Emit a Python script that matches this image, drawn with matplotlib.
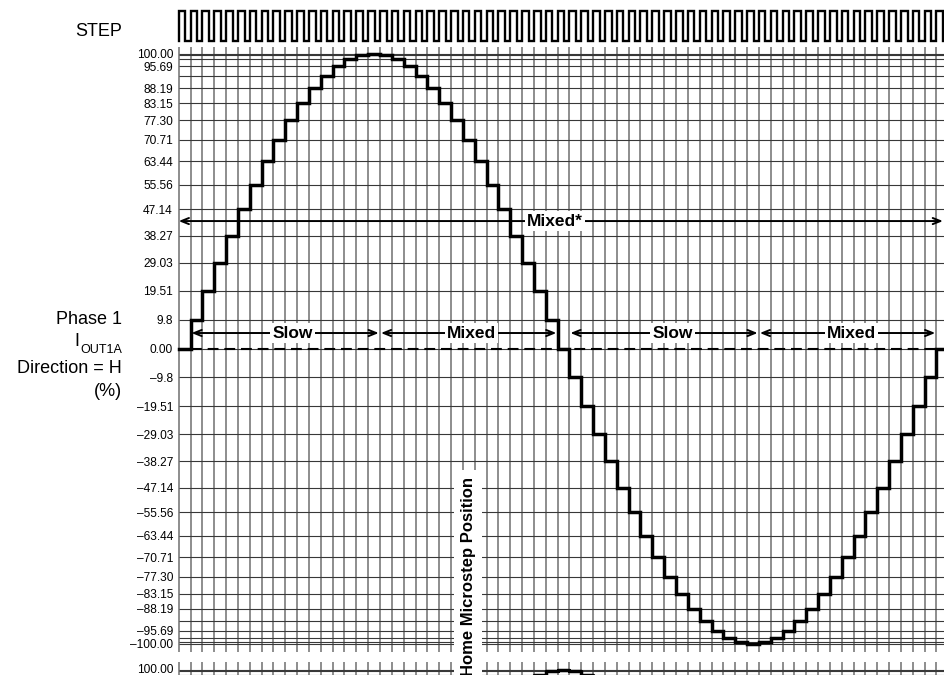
import numpy as np
import matplotlib
matplotlib.use('Agg')
import matplotlib.pyplot as plt

plt.rcParams['font.family'] = ['Liberation Sans', 'DejaVu Sans']

# ---------------- data ----------------
phase1_current = [0.00, 9.8, 19.51, 29.03, 38.27, 47.14, 55.56, 63.44, 70.71, 77.30,
                  83.15, 88.19, 92.39, 95.69, 98.08, 99.52, 100.00, 99.52, 98.08, 95.69,
                  92.39, 88.19, 83.15, 77.30, 70.71, 63.44, 55.56, 47.14, 38.27, 29.03,
                  19.51, 9.8, 0.00, -9.8, -19.51, -29.03, -38.27, -47.14, -55.56, -63.44,
                  -70.71, -77.30, -83.15, -88.19, -92.39, -95.69, -98.08, -99.52, -100.00,
                  -99.52, -98.08, -95.69, -92.39, -88.19, -83.15, -77.30, -70.71, -63.44,
                  -55.56, -47.14, -38.27, -29.03, -19.51, -9.8, 0.00]

grid_levels = [100.00, 99.52, 98.08, 95.69, 92.39, 88.19, 83.15, 77.30, 70.71, 63.44,
               55.56, 47.14, 38.27, 29.03, 19.51, 9.8, 0.00, -9.8, -19.51, -29.03,
               -38.27, -47.14, -55.56, -63.44, -70.71, -77.30, -83.15, -88.19, -92.39,
               -95.69, -98.08, -99.52, -100.00]

tick_values = [100.00, 95.69, 88.19, 83.15, 77.30, 70.71, 63.44, 55.56, 47.14, 38.27,
               29.03, 19.51, 9.8, 0.00, -9.8, -19.51, -29.03, -38.27, -47.14, -55.56,
               -63.44, -70.71, -77.30, -83.15, -88.19, -95.69, -100.00]
tick_labels = ['100.00', '95.69', '88.19', '83.15', '77.30', '70.71', '63.44', '55.56',
               '47.14', '38.27', '29.03', '19.51', '9.8', '0.00', '\u20139.8', '\u201319.51',
               '\u201329.03', '\u201338.27', '\u201347.14', '\u201355.56', '\u201363.44',
               '\u201370.71', '\u201377.30', '\u201383.15', '\u201388.19', '\u201395.69',
               '\u2013100.00']

phase2_steps = [28, 29, 30, 31, 32, 33, 34, 35, 36]
phase2_current = [92.39, 95.69, 98.08, 99.52, 100.00, 99.52, 98.08, 95.69, 92.39]
phase2_grid = [100.00, 99.52, 98.08]

n_step_pulses = 66

decay_names = ['Slow', 'Mixed', 'Slow', 'Mixed']
decay_start = [1, 17, 33, 49]
decay_end = [17, 32, 49, 64]
decay_label_x = [9.6, 24.7, 41.7, 56.8]
decay_level = 5.25

mixed_all_start = 0
mixed_all_end = 64.55
mixed_all_level = 43.2
mixed_all_label_x = 31.8

# ---------------- layout helpers ----------------
W, H = 944, 675
fig = plt.figure(figsize=(W / 100, H / 100), dpi=100)

px_x0 = 178.7      # pixel of step 0
px_step = 11.84    # pixels per step
px_zero = 348.5    # pixel of 0 %
px_unit = 2.95     # pixels per %

x_lo = -0.25
x_hi = (W - px_x0) / px_step
ax_left = px_x0 + x_lo * px_step


def add_axes_px(top_px, bottom_px):
    return fig.add_axes([ax_left / W, 1 - bottom_px / H, (W - ax_left) / W,
                         (bottom_px - top_px) / H])


def clean(ax):
    for s in ax.spines.values():
        s.set_visible(False)
    ax.set_xticks([])
    ax.set_yticks([])
    ax.set_xlim(x_lo, x_hi)


vcolor = '#858585'
hcolor = '#383838'

# ---------------- main axes ----------------
top_px, bot_px = 46.7, 651.7
ax = add_axes_px(top_px, bot_px)
clean(ax)
y_top = (px_zero - top_px) / px_unit
y_bot = (px_zero - bot_px) / px_unit
ax.set_ylim(y_bot, y_top)

ax.vlines(np.arange(0, 66), y_bot, y_top, colors=vcolor, lw=1.3, zorder=1)
ax.hlines(grid_levels, 0, x_hi + 1, colors=hcolor, lw=0.8, zorder=1.5)

ax.set_yticks(tick_values)
ax.set_yticklabels(tick_labels, fontsize=8.6)
ax.tick_params(axis='y', length=0, pad=2.0)

# dashed zero reference
ax.plot([1, 64], [0, 0], color='black', lw=1.5, linestyle=(0, (5.2, 2.8)), zorder=3)

# waveform
xs = np.arange(len(phase1_current) + 1)
ys = phase1_current + [phase1_current[-1]]
ax.step(xs, ys, where='post', color='black', lw=2.5, zorder=5,
        solid_joinstyle='miter')

# arrows
arrow_kw = dict(arrowstyle='<->,head_length=0.55,head_width=0.22', color='black',
                lw=1.4, shrinkA=0, shrinkB=0)
ax.annotate('', xy=(mixed_all_start, mixed_all_level), xytext=(mixed_all_end, mixed_all_level),
            arrowprops=arrow_kw, zorder=4, annotation_clip=False)
ax.text(mixed_all_label_x, mixed_all_level, 'Mixed*', fontsize=12.5, fontweight='bold',
        ha='center', va='center', zorder=6,
        bbox=dict(boxstyle='square,pad=0.12', fc='white', ec='none'))

for name, s, e, lx in zip(decay_names, decay_start, decay_end, decay_label_x):
    ax.annotate('', xy=(s + 0.08, decay_level), xytext=(e - 0.1, decay_level),
                arrowprops=arrow_kw, zorder=4)
    ax.text(lx, decay_level, name, fontsize=12.5, fontweight='bold', ha='center',
            va='center', zorder=6,
            bbox=dict(boxstyle='square,pad=0.12', fc='white', ec='none'))

# ---------------- STEP axes ----------------
s_top, s_bot = 8.0, 44.0
hi_px, lo_px = 11.0, 40.7
sax = add_axes_px(s_top, s_bot)
clean(sax)
span = lo_px - hi_px
sax.set_ylim(-(s_bot - lo_px) / span, 1 + (hi_px - s_top) / span)
sx, sy = [], []
for k in range(n_step_pulses):
    sx += [k, k, k + 0.56, k + 0.56]
    sy += [0, 1, 1, 0]
sax.plot(sx, sy, color='black', lw=1.7, solid_joinstyle='miter')

# ---------------- lower (phase 2) axes, cut off ----------------
b_top = 661.7
b_bot = 961.7
bax = add_axes_px(b_top, b_bot)
clean(bax)
p100 = 669.8
b_ytop = 100 + (p100 - b_top) / px_unit
b_ybot = b_ytop - (b_bot - b_top) / px_unit
bax.set_ylim(b_ybot, b_ytop)
bax.vlines(np.arange(0, 66), b_ybot, b_ytop, colors=vcolor, lw=1.3, zorder=1)
bax.hlines(phase2_grid, 0, x_hi + 1, colors=hcolor, lw=0.8, zorder=1.5)
bx = phase2_steps + [phase2_steps[-1] + 1]
by = phase2_current + [phase2_current[-1]]
bax.step(bx, by, where='post', color='black', lw=2.5, zorder=5)
fig.text((ax_left - 2.0 * 1.39) / W, 1 - p100 / H, '100.00', fontsize=8.6,
         ha='right', va='center')

# ---------------- left-side labels ----------------
def ftext(px, py, s, **kw):
    fig.text(px / W, 1 - py / H, s, **kw)

ftext(122, 36, 'STEP', fontsize=13, ha='right', va='baseline')
ftext(122, 324.3, 'Phase 1', fontsize=13, ha='right', va='baseline')
ftext(79, 345.5, 'I', fontsize=13, ha='right', va='baseline')
ftext(122, 352.7, 'OUT1A', fontsize=9, ha='right', va='baseline')
ftext(122, 373.3, 'Direction = H', fontsize=13, ha='right', va='baseline')
ftext(122, 396.5, '(%)', fontsize=13, ha='right', va='baseline')

# home microstep position marker
ftext(468, 675.5, 'Home Microstep Position', fontsize=12, fontweight='bold',
      rotation=90, ha='center', va='bottom', zorder=10,
      bbox=dict(boxstyle='square,pad=0.4', fc='white', ec='none'))

fig.savefig('out.png', dpi=100)
